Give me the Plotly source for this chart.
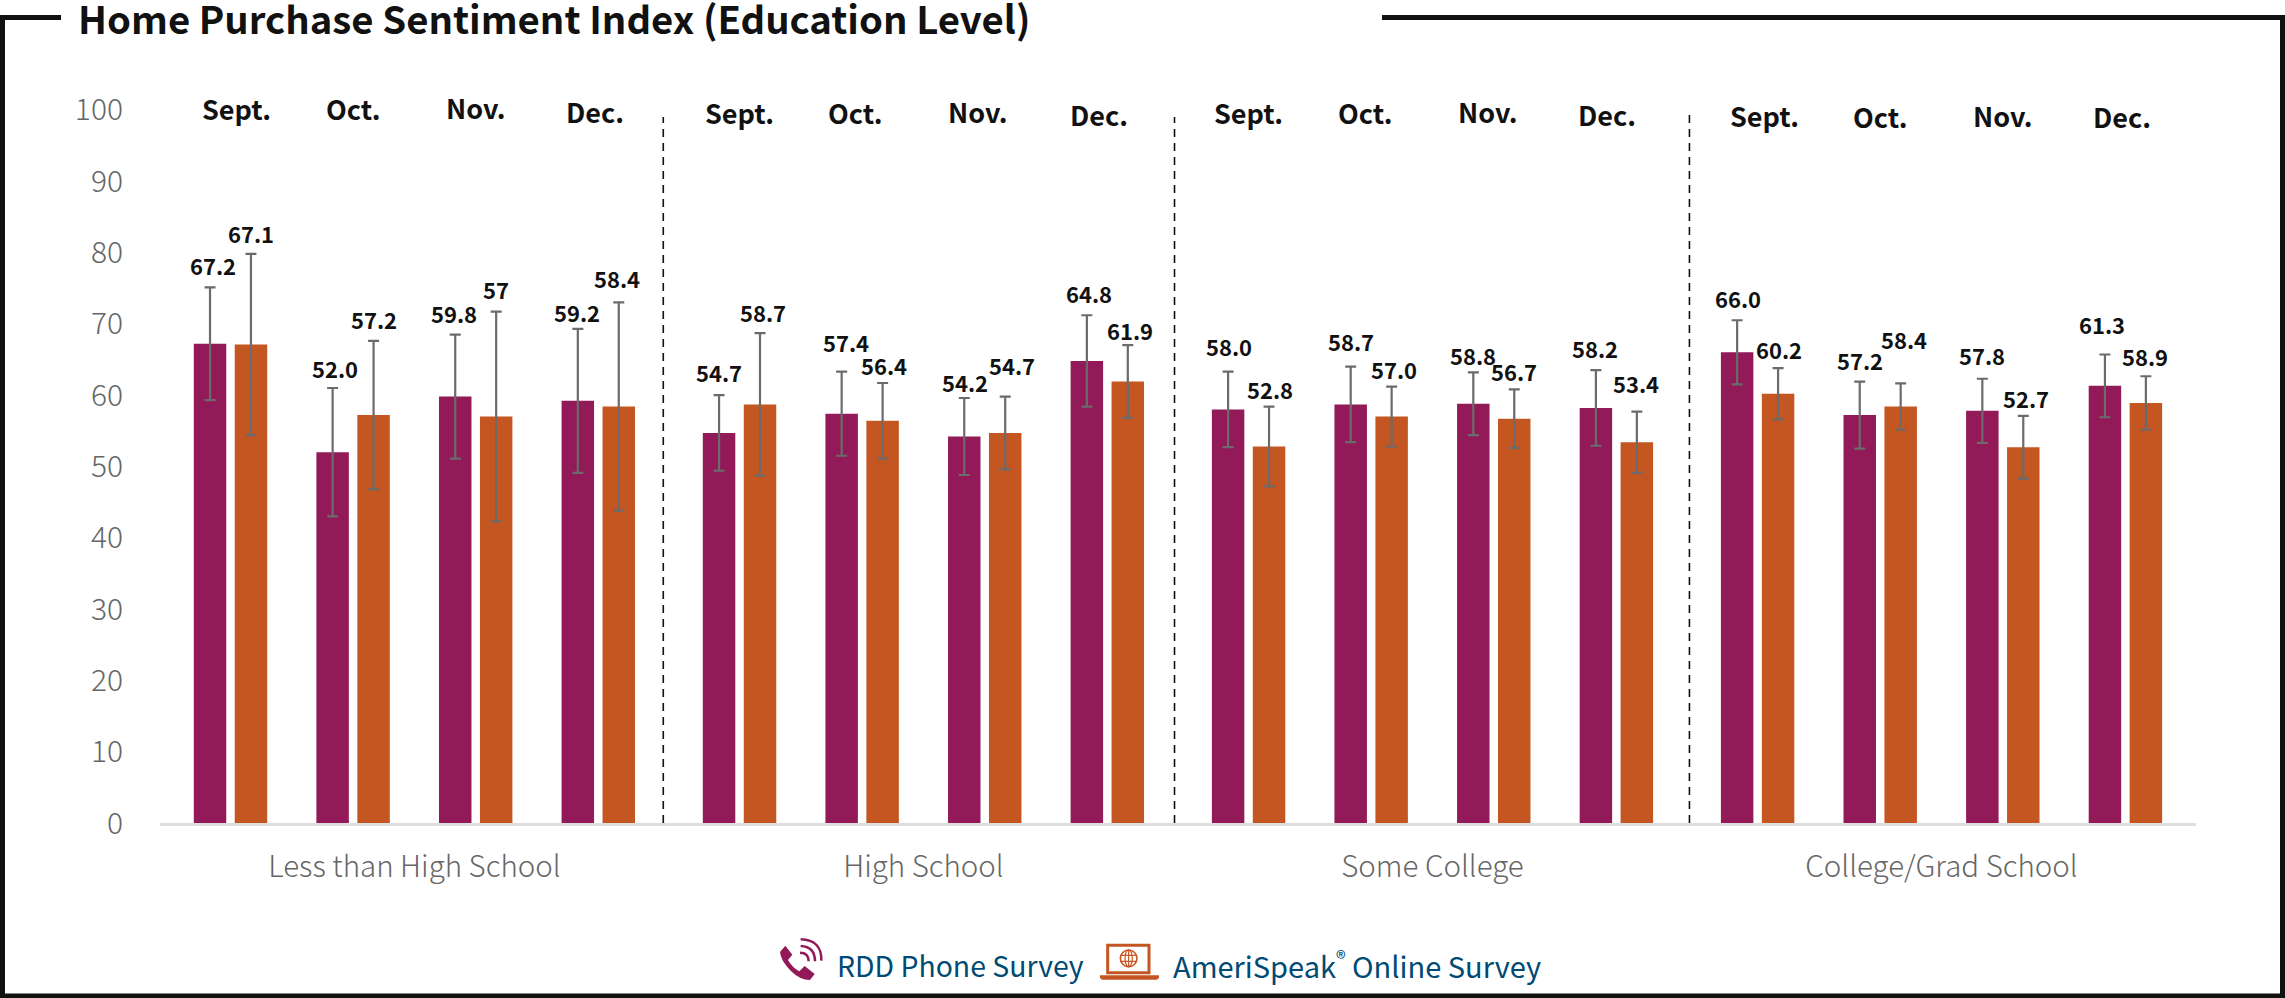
import plotly.graph_objects as go

W, H = 2285, 998
FONT = "Noto Sans CJK SC, Noto Sans, sans-serif"

# ---- data ----
groups = ["Less than High School", "High School", "Some College", "College/Grad School"]
months = ["Sept.", "Oct.", "Nov.", "Dec."]
phone = [67.2, 52.0, 59.8, 59.2, 54.7, 57.4, 54.2, 64.8, 58.0, 58.7, 58.8, 58.2, 66.0, 57.2, 57.8, 61.3]
online = [67.1, 57.2, 57, 58.4, 58.7, 56.4, 54.7, 61.9, 52.8, 57.0, 56.7, 53.4, 60.2, 58.4, 52.7, 58.9]
phone_moe = [7.9, 9.0, 8.7, 10.1, 5.3, 5.9, 5.4, 6.4, 5.3, 5.3, 4.4, 5.3, 4.5, 4.7, 4.5, 4.4]
online_moe = [12.7, 10.4, 14.7, 14.6, 10.0, 5.3, 5.1, 5.1, 5.6, 4.2, 4.1, 4.3, 3.6, 3.25, 4.4, 3.75]
phone_text = ["67.2", "52.0", "59.8", "59.2", "54.7", "57.4", "54.2", "64.8", "58.0", "58.7", "58.8", "58.2", "66.0", "57.2", "57.8", "61.3"]
online_text = ["67.1", "57.2", "57", "58.4", "58.7", "56.4", "54.7", "61.9", "52.8", "57.0", "56.7", "53.4", "60.2", "58.4", "52.7", "58.9"]

# ---- layout helpers (not data) ----
GROUP_STEP = 4.152
x_pos = [g * GROUP_STEP + m for g in range(4) for m in range(4)]
group_centers = [g * GROUP_STEP + 1.5 for g in range(4)]
separators = [3.53, 7.70, 11.90]
SEP_TOP = [99, 99, 99.5]
SLOT_PX = 41
PX_PER_X = 122.6

phone_gap = [22, 20, 22, 17, 23, 30, 16, 22, 26, 26, 17, 22, 22, 22, 24, 30]
online_gap = [21, 22, 23, 24, 21, 18, 32, 15, 18, 18, 18, 29, 19, 44, 18, 20]
phone_dx = [3, 2, -1, -1, 0, 4, 1, 2, 1, 0, 0, -1, 1, 0, 0, -3]
online_dx = [0, 0, 0, -2, 3, 1, 7, 2, 1, 2, 0, -1, 1, 3, 3, -1]
month_py = [108, 109, 107, 111, 112, 112, 111, 114, 112, 112, 111, 114, 115, 116, 115, 116]
month_dx = [6, 0, 0, -3, 0, -7, -7, -8, 0, -6, -6, -9, 7, 0, 0, -3]


def px(x):
    return x / W


def py(y):
    return 1 - y / H


def Z(x, y):
    """legend-icon coordinates (icon grid) -> paper fractions"""
    return f"{px(760 + x / 3):.5f},{py(930 + y / 3):.5f}"


PURPLE = "#921a58"
ORANGE = "#c45622"
ERR = "#6b6b6b"
GREY = "#666666"
NAVY = "#004a73"
BLACK = "#111111"

fig = go.Figure()
for name, vals, moe, color in [
    ("RDD Phone Survey", phone, phone_moe, PURPLE),
    ("AmeriSpeak® Online Survey", online, online_moe, ORANGE),
]:
    fig.add_trace(go.Bar(
        name=name, x=x_pos, y=vals, marker=dict(color=color, line=dict(width=0)),
        error_y=dict(type="data", array=moe, color=ERR, thickness=2.2, width=5.5),
        showlegend=False,
    ))

ann = []
for i, xp in enumerate(x_pos):
    ann.append(dict(x=xp, xref="x", y=py(month_py[i]), yref="paper", xshift=month_dx[i],
                    text=f"<b>{months[i % 4]}</b>", showarrow=False, xanchor="center", yanchor="middle",
                    font=dict(family=FONT, size=27, color=BLACK)))
    for vals, moe, txt, gap, dx, sign in [
        (phone, phone_moe, phone_text, phone_gap, phone_dx, -1),
        (online, online_moe, online_text, online_gap, online_dx, 1),
    ]:
        ann.append(dict(x=xp, xref="x", y=vals[i] + moe[i], yref="y",
                        xshift=sign * SLOT_PX / 2 + dx[i], yshift=gap[i],
                        text=f"<b>{txt[i]}</b>", showarrow=False, xanchor="center", yanchor="middle",
                        font=dict(family=FONT, size=22, color=BLACK)))

ann.append(dict(x=px(835), xref="paper", y=py(964), yref="paper", text="RDD Phone Survey", showarrow=False,
                xanchor="left", yanchor="middle", font=dict(family=FONT, size=28.4, color=NAVY)))
ann.append(dict(x=px(1171), xref="paper", y=py(964), yref="paper", text="AmeriSpeak<sup>®</sup> Online Survey",
                showarrow=False, xanchor="left", yanchor="middle", font=dict(family=FONT, size=29, color=NAVY)))

shapes = []
# dashed separators between education groups
for s, top in zip(separators, SEP_TOP):
    shapes.append(dict(type="line", xref="x", yref="y", x0=s, x1=s, y0=0, y1=top,
                       line=dict(color=BLACK, width=1.6, dash="8px,6px")))
# frame
for (x0, y0, x1, y1) in [(0, 17.5, 61, 17.5), (1382, 17.5, W, 17.5), (2.5, 15, 2.5, H),
                         (W - 2.5, 15, W - 2.5, H), (0, H - 2, W, H - 2)]:
    shapes.append(dict(type="line", xref="paper", yref="paper", x0=px(x0), x1=px(x1), y0=py(y0), y1=py(y1),
                       line=dict(color=BLACK, width=5)))

# phone icon
shapes.append(dict(type="path", xref="paper", yref="paper", fillcolor=PURPLE, line=dict(width=0),
                   path=f"M {Z(60,66)} L {Z(76,47)} L {Z(97,74)} L {Z(84,90)} Q {Z(96,112)} {Z(118,124)} "
                        f"L {Z(134,108)} L {Z(164,132)} L {Z(150,150)} Q {Z(120,150)} {Z(92,122)} Q {Z(62,92)} {Z(60,66)} Z"))
for a, c, b in [((122, 28), (186, 30), (184, 92)), ((122, 48), (165, 50), (165, 94)), ((120, 68), (146, 68), (146, 94))]:
    shapes.append(dict(type="path", xref="paper", yref="paper", line=dict(color=PURPLE, width=2.5),
                       path=f"M {Z(*a)} Q {Z(*c)} {Z(*b)}"))
# laptop icon
shapes.append(dict(type="path", xref="paper", yref="paper", line=dict(color=ORANGE, width=3),
                   path=f"M {Z(1043,46)} L {Z(1167,46)} L {Z(1167,128)} L {Z(1043,128)} Z"))
shapes.append(dict(type="path", xref="paper", yref="paper", fillcolor=ORANGE, line=dict(width=0),
                   path=f"M {Z(1020,136)} L {Z(1197,136)} L {Z(1197,144)} L {Z(1190,149)} L {Z(1026,149)} L {Z(1020,144)} Z"))
shapes.append(dict(type="circle", xref="paper", yref="paper", x0=px(760 + 1081 / 3), x1=px(760 + 1131 / 3),
                   y0=py(930 + 110 / 3), y1=py(930 + 60 / 3), line=dict(color=ORANGE, width=1.6)))
shapes.append(dict(type="circle", xref="paper", yref="paper", x0=px(760 + 1095 / 3), x1=px(760 + 1117 / 3),
                   y0=py(930 + 110 / 3), y1=py(930 + 60 / 3), line=dict(color=ORANGE, width=1.2)))
for zy in (76, 94):
    shapes.append(dict(type="line", xref="paper", yref="paper", x0=px(760 + 1083 / 3), x1=px(760 + 1129 / 3),
                       y0=py(930 + zy / 3), y1=py(930 + zy / 3), line=dict(color=ORANGE, width=1.2)))
shapes.append(dict(type="line", xref="paper", yref="paper", x0=px(760 + 1106 / 3), x1=px(760 + 1106 / 3),
                   y0=py(930 + 60 / 3), y1=py(930 + 110 / 3), line=dict(color=ORANGE, width=1.2)))

fig.update_layout(
    width=W, height=H, autosize=False,
    margin=dict(l=0, r=0, t=0, b=0, pad=0),
    paper_bgcolor="white", plot_bgcolor="white",
    barmode="group", bargap=0.332, bargroupgap=0.207,
    title=dict(text="<b>Home Purchase Sentiment Index (Education Level)</b>", automargin=False,
               x=px(78), xref="paper", xanchor="left", y=py(21), yref="paper", yanchor="middle",
               font=dict(family=FONT, size=38.3, color=BLACK)),
    xaxis=dict(domain=[px(160), px(2196)], automargin=False,
               range=[(160 - 230.5) / PX_PER_X, (2196 - 230.5) / PX_PER_X],
               tickmode="array", tickvals=group_centers, ticktext=groups,
               tickfont=dict(family=FONT, size=29.5, color=GREY, weight=300),
               ticks="outside", ticklen=16, tickcolor="rgba(0,0,0,0)",
               showline=True, linecolor="#dedede", linewidth=2.5, showgrid=False, zeroline=False),
    yaxis=dict(domain=[py(823), py(109.9)], range=[0, 100], dtick=10, automargin=False,
               tickfont=dict(family=FONT, size=30, color=GREY, weight=300),
               ticks="outside", ticklen=30, tickcolor="rgba(0,0,0,0)",
               showline=False, showgrid=False, zeroline=False),
    annotations=ann, shapes=shapes,
)

fig.write_html("out.html", config=dict(displayModeBar=False),
               post_script="document.body.style.margin='0';document.body.style.overflow='hidden';")
